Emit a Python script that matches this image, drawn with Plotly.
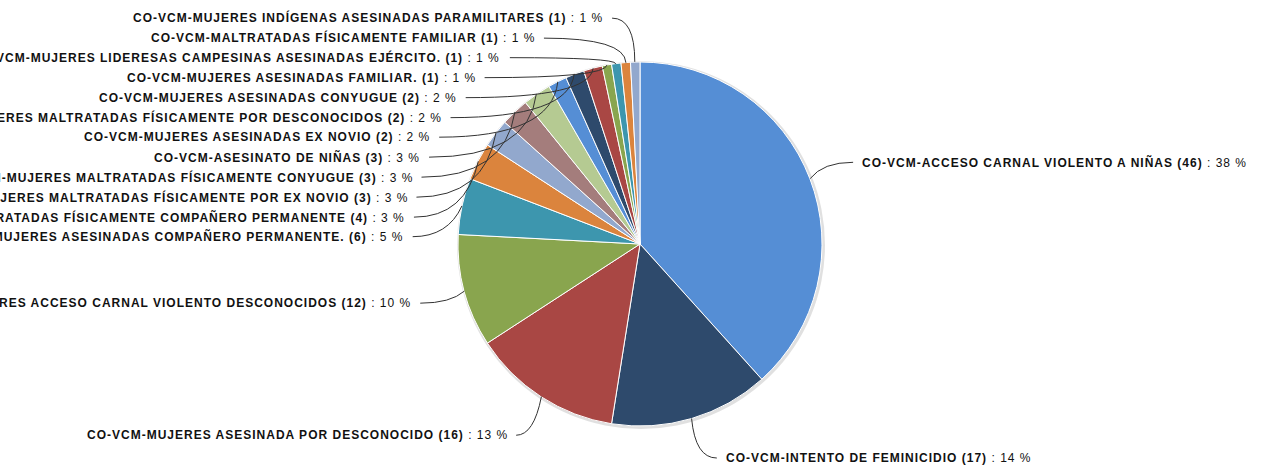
import math
import plotly.graph_objects as go

# categorias y conteos (sentido horario desde las 12)
categorias = [
    "CO-VCM-ACCESO CARNAL VIOLENTO A NIÑAS",
    "CO-VCM-INTENTO DE FEMINICIDIO",
    "CO-VCM-MUJERES ASESINADA POR DESCONOCIDO",
    "CO-VCM-MUJERES ACCESO CARNAL VIOLENTO DESCONOCIDOS",
    "CO-VCM-MUJERES ASESINADAS COMPAÑERO PERMANENTE.",
    "CO-VCM-MUJERES MALTRATADAS FÍSICAMENTE COMPAÑERO PERMANENTE",
    "CO-VCM-MUJERES MALTRATADAS FÍSICAMENTE POR EX NOVIO",
    "CO-VCM-MUJERES MALTRATADAS FÍSICAMENTE CONYUGUE",
    "CO-VCM-ASESINATO DE NIÑAS",
    "CO-VCM-MUJERES ASESINADAS EX NOVIO",
    "CO-VCM-MUJERES MALTRATADAS FÍSICAMENTE POR DESCONOCIDOS",
    "CO-VCM-MUJERES ASESINADAS CONYUGUE",
    "CO-VCM-MUJERES ASESINADAS FAMILIAR.",
    "CO-VCM-MUJERES LIDERESAS CAMPESINAS ASESINADAS EJÉRCITO.",
    "CO-VCM-MALTRATADAS FÍSICAMENTE FAMILIAR",
    "CO-VCM-MUJERES INDÍGENAS ASESINADAS PARAMILITARES",
]
conteos = [46, 17, 16, 12, 6, 4, 3, 3, 3, 2, 2, 2, 1, 1, 1, 1]

paleta = ["#558ED5", "#2E4A6C", "#A94744", "#89A54E", "#3D96AE",
          "#DB843D", "#92A8CD", "#A47D7C", "#B5CA92"]
colores = [paleta[i % len(paleta)] for i in range(len(conteos))]

W, H = 1262, 465
cx, cy, r = 640, 244, 182
Rx, Ry = 230, 228  # elipse donde van las etiquetas
spacing = 19.9
ymin, ymax = 18, H - 7

total = sum(conteos)
porcentajes = [int(math.floor(100 * c / total + 0.5)) for c in conteos]

def px(x):
    return x / W

def py(y):
    return 1 - y / H

# angulos medios
mids = []
acc = 0
for c in conteos:
    mids.append(2 * math.pi * (acc + c / 2) / total)
    acc += c

info = []
for i, th in enumerate(mids):
    lado = 1 if math.sin(th) > 0 else -1
    info.append(dict(i=i, th=th, lado=lado, y=cy - Ry * math.cos(th)))

# distribuir etiquetas para que no se encimen
for lado in (1, -1):
    grp = sorted([d for d in info if d["lado"] == lado], key=lambda d: d["y"])
    prev = None
    for d in grp:
        y = max(d["y"], ymin)
        if prev is not None:
            y = max(y, prev + spacing)
        d["y"] = y
        prev = y
    nxt = None
    for d in reversed(grp):
        y = min(d["y"], ymax)
        if nxt is not None:
            y = min(y, nxt - spacing)
        d["y"] = y
        nxt = y

fig = go.Figure()

fig.add_trace(go.Pie(
    labels=categorias,
    values=conteos,
    sort=False,
    direction="clockwise",
    rotation=0,
    marker=dict(colors=colores, line=dict(color="#ffffff", width=1)),
    textinfo="none",
    hoverinfo="label+value+percent",
    showlegend=False,
    domain=dict(x=[px(cx - r), px(cx + r)], y=[py(cy + r), py(cy - r)]),
))

shapes = []
# sombra suave
shapes.append(dict(type="circle", xref="paper", yref="paper", layer="below",
                   x0=px(cx - r - 1), x1=px(cx + r + 3), y0=py(cy + r + 3), y1=py(cy - r - 1),
                   fillcolor="rgba(0,0,0,0.12)", line=dict(width=0)))

annotations = []
for d in info:
    i, th, lado, y = d["i"], d["th"], d["lado"], d["y"]
    dy = y - cy
    f = max(1 - (dy / Ry) ** 2, 0)
    x = cx + lado * Rx * math.sqrt(f)
    # punto en el borde del sector
    ex = cx + r * math.sin(th)
    ey = cy - r * math.cos(th)
    ctx = cx + (r + 14) * math.sin(th)
    sx = x - lado * 2
    path = "M %.3f %.3f Q %.3f %.3f %.3f %.3f" % (
        px(sx), py(y), px(ctx), py(y), px(ex), py(ey))
    shapes.append(dict(type="path", xref="paper", yref="paper", path=path,
                       line=dict(color="#333333", width=1)))
    texto = "<b>%s (%d)</b> : %d %%" % (categorias[i], conteos[i], porcentajes[i])
    annotations.append(dict(
        x=px(x + lado * 5), y=py(y), xref="paper", yref="paper",
        text=texto, showarrow=False,
        xanchor="left" if lado > 0 else "right", yanchor="middle",
        font=dict(family="Liberation Sans, Arial, sans-serif", size=12, color="#111111"),
    ))

fig.update_layout(
    width=W, height=H,
    margin=dict(l=0, r=0, t=0, b=0),
    paper_bgcolor="#ffffff",
    plot_bgcolor="#ffffff",
    shapes=shapes,
    annotations=annotations,
)

# quitar margen del body y dar espaciado a las letras como en el original
# (se cambia un poco el tamaño para que plotly vuelva a medir los textos)
post = """
document.body.style.margin = '0';
var st = document.createElement('style');
st.textContent = '.annotation-text { letter-spacing: 1px; }';
document.head.appendChild(st);
var gd = document.getElementById('{plot_id}');
gd.layout.annotations.forEach(function (a) { a.font.size = 12.01; });
Plotly.newPlot(gd, gd.data, gd.layout, {displayModeBar: false});
"""

fig.write_html("out.html", post_script=post, config={"displayModeBar": False})
